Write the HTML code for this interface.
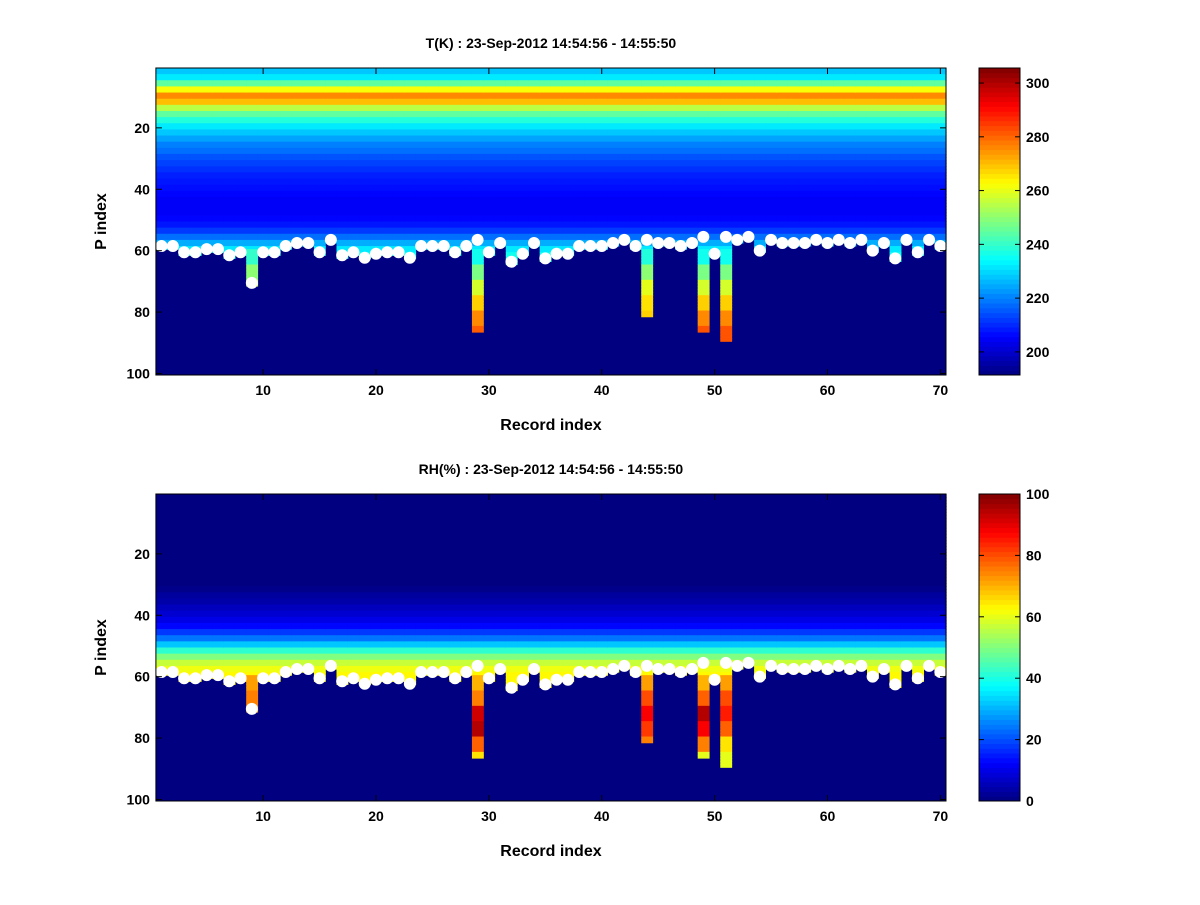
<!DOCTYPE html>
<html><head><meta charset="utf-8">
<style>
body{margin:0;background:#fff;}
svg text{font-family:"Liberation Sans",sans-serif;font-weight:bold;fill:#000;}
</style></head>
<body>
<svg id="chart" width="1200" height="900" xmlns="http://www.w3.org/2000/svg">
<rect width="1200" height="900" fill="#fff"/>
</svg>
<script>
// ---- data ----
const records = Array.from({length:70},(_,i)=>i+1);
const surfaceIndex = [58.5,58.5,60.5,60.5,59.5,59.5,61.5,60.5,70.5,60.5,60.5,58.5,57.5,57.5,60.5,56.5,61.5,60.5,62.3,61,60.5,60.5,62.3,58.5,58.5,58.5,60.5,58.5,56.5,60.5,57.5,63.6,61,57.5,62.5,61,61,58.5,58.5,58.5,57.5,56.5,58.5,56.5,57.5,57.5,58.5,57.5,55.5,61,55.5,56.5,55.5,60,56.5,57.5,57.5,57.5,56.5,57.5,56.5,57.5,56.5,60,57.5,62.5,56.5,60.5,56.5,58.5];
const extBottom = {9:71,29:86,44:81,49:86,51:89};
// background profiles, one value per 2 pressure levels
const tProfile = [228,232,245,262,276,270,255,245,238,232,228,224,220,218,215,213,211,209,208,207,206,205,205,205,206,208,212,218,225,232,236,238,238,238,238,238,238,238,238,238,238,238,238,238,238,238,238,238,238,238];
const rhProfile = [0,0,0,0,0,0,0,0,0,0,0,0,0,0,0,1,3,4,6,8,10,13,18,24,32,42,50,57,61,63,63,63,63,63,63,63,63,63,63,63,63,63,63,63,63,63,63,63,63,63];
// extended columns, one value per 5 levels starting at P=60
const extT = {9:[240,250,256],29:[236,248,258,268,276,281],44:[238,250,260,266,268],49:[236,248,258,268,276,282],51:[236,248,258,268,276,282,286]};
const extRH = {9:[72,75,72],29:[70,75,92,95,78,65],44:[72,80,88,82,75],49:[70,78,95,88,75,60],51:[72,80,85,78,65,60,55]};
const xTicks = [10,20,30,40,50,60,70];
const yTicks = [20,40,60,80,100];
const tTicks = [200,220,240,260,280,300];
const rhTicks = [0,20,40,60,80,100];

const NS="http://www.w3.org/2000/svg";
const svg=document.getElementById('chart');
function el(tag,attrs,parent){const e=document.createElementNS(NS,tag);for(const k in attrs)e.setAttribute(k,attrs[k]);(parent||svg).appendChild(e);return e;}
function jet(v){ // v 0..1
  v=Math.max(0,Math.min(1,v));
  const r=Math.min(4*v-1.5,-4*v+4.5),g=Math.min(4*v-0.5,-4*v+3.5),b=Math.min(4*v+0.5,-4*v+2.5);
  const c=x=>Math.round(255*Math.max(0,Math.min(1,x)));
  return `rgb(${c(r)},${c(g)},${c(b)})`;
}
const X0=155.9,X1=946,NX=70;
function xs(r){return X0+(r-0.5)*(X1-X0)/NX;}
function panel(top,bot,title,prof,ext,vmin,vmax,cTicks,name){
  const rowH=(bot-top)/100;
  const ys=p=>top+(p-0.5)*rowH;
  const g=el('g',{});
  
  
  el('rect',{x:X0,y:top,width:X1-X0,height:bot-top,fill:jet(0)},g);
  const cw=(X1-X0)/NX;
  records.forEach((r,i)=>{
    const surf=Math.round(surfaceIndex[i]);
    const bottom=extBottom[r]||surf;
    for(let p=1;p<=bottom;p++){
      let v;
      if(ext[r]&&p>=60) v=ext[r][Math.min(ext[r].length-1,Math.floor((p-60)/5))];
      else v=prof[Math.floor((p-1)/2)];
      const c=el('rect',{x:xs(r)-cw/2,y:ys(p)-rowH/2,width:cw+0.6,height:rowH+0.6,fill:jet((v-vmin)/(vmax-vmin))},g);
      
      
    }
  });
  records.forEach((r,i)=>{
    const d=el('circle',{cx:xs(r),cy:ys(surfaceIndex[i]),r:6,fill:'#fff'},g);
    
    
  });
  el('rect',{x:X0,y:top,width:X1-X0,height:bot-top,fill:'none',stroke:'#000','stroke-width':1},g);
  xTicks.forEach(t=>{
    el('line',{x1:xs(t),x2:xs(t),y1:bot,y2:bot-6,stroke:'#000'},g);
    el('line',{x1:xs(t),x2:xs(t),y1:top,y2:top+6,stroke:'#000'},g);
    const tx=el('text',{x:xs(t),y:bot+20,'font-size':14,'text-anchor':'middle'},g);tx.textContent=t;
    
    
  });
  yTicks.forEach(t=>{
    el('line',{x1:X0,x2:X0+6,y1:ys(t),y2:ys(t),stroke:'#000'},g);
    el('line',{x1:X1,x2:X1-6,y1:ys(t),y2:ys(t),stroke:'#000'},g);
    const tx=el('text',{x:X0-6,y:ys(t)+5,'font-size':14,'text-anchor':'end'},g);tx.textContent=t;
    
    
  });
  const tt=el('text',{x:(X0+X1)/2,y:top-20,'font-size':14,'text-anchor':'middle'},g);tt.textContent=title;
  
  
  const xl=el('text',{x:(X0+X1)/2,y:bot+55,'font-size':16,'text-anchor':'middle'},g);xl.textContent='Record index';
  
  
  const yl=el('text',{x:0,y:0,'font-size':16,'text-anchor':'middle',transform:`translate(106,${(top+bot)/2}) rotate(-90)`},g);yl.textContent='P index';
  
  
  // colorbar
  const cb=el('g',{},g);
  
  
  const CX=979,CW=41,N=64,h=(bot-top)/N;
  for(let k=0;k<N;k++){el('rect',{x:CX,y:bot-(k+1)*h,width:CW,height:h+0.5,fill:jet((k+0.5)/N)},cb);}
  el('rect',{x:CX,y:top,width:CW,height:bot-top,fill:'none',stroke:'#000'},cb);
  const cy=v=>bot-(v-vmin)/(vmax-vmin)*(bot-top);
  cTicks.forEach(t=>{
    el('line',{x1:CX,x2:CX+5,y1:cy(t),y2:cy(t),stroke:'#000'},cb);
    el('line',{x1:CX+CW,x2:CX+CW-5,y1:cy(t),y2:cy(t),stroke:'#000'},cb);
    const tx=el('text',{x:CX+CW+6,y:cy(t)+5,'font-size':14},cb);tx.textContent=t;
    
    
  });
}
panel(68,375,'T(K) : 23-Sep-2012 14:54:56 - 14:55:50',tProfile,extT,191.4,305.6,tTicks,'temperature');
panel(494,801,'RH(%) : 23-Sep-2012 14:54:56 - 14:55:50',rhProfile,extRH,0,100,rhTicks,'humidity');
</script>
</body></html>
